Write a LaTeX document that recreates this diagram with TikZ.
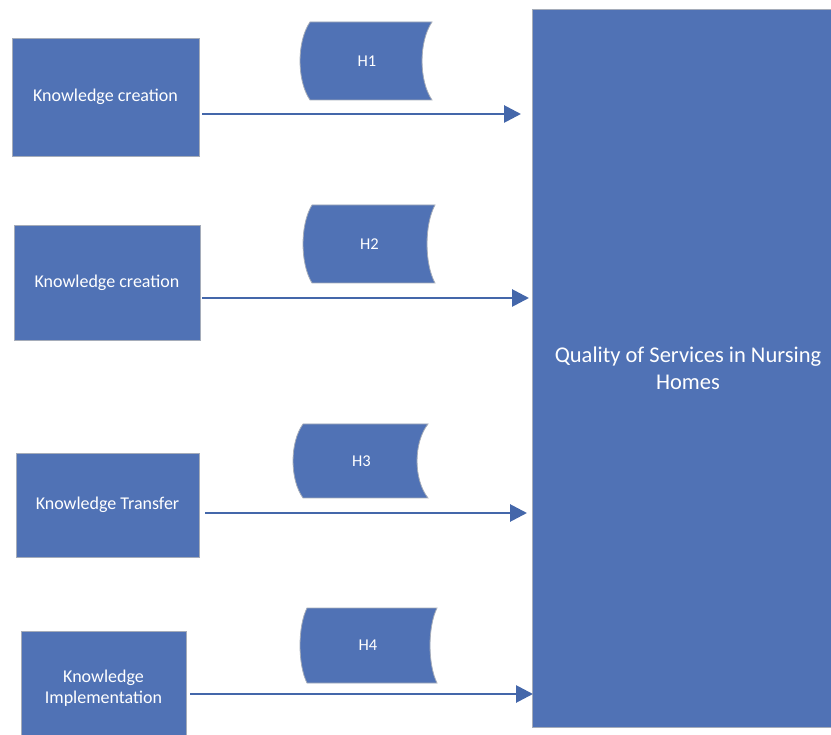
\documentclass[tikz,border=0pt]{standalone}
\usepackage{fontspec}
\setmainfont{Carlito}
\usetikzlibrary{arrows.meta}
\definecolor{boxblue}{RGB}{80,114,181}
\definecolor{arrblue}{RGB}{68,103,170}
\definecolor{edgegray}{RGB}{165,172,185}
\tikzset{
  kbox/.style={draw=edgegray, line width=0.9pt, fill=boxblue, text=white, align=center,
    font=\fontsize{18}{21}\selectfont, inner sep=0pt},
  bigbox/.style={draw=edgegray, line width=0.9pt, fill=boxblue, text=white, align=center,
    font=\fontsize{22.5}{27}\selectfont, inner sep=0pt},
  hshp/.style={draw=edgegray, line width=0.8pt, fill=boxblue},
  hlabel/.style={text=white, font=\fontsize{16.5}{19}\selectfont, inner sep=0pt},
  arr/.style={draw=arrblue, line width=2.8pt, -{Triangle[length=17pt,width=17pt]}}
}
\newcommand\hsym[8]{% name, xcl, xl, xr, xcr, ytop, ybot, label
  \path[hshp] (#3,#6) -- (#4,#6)
    .. controls ({#4-(#4-#5)*1.33},{#6+(#7-#6)*0.25}) and ({#4-(#4-#5)*1.33},{#6+(#7-#6)*0.75}) .. (#4,#7)
    -- (#3,#7)
    .. controls ({#3-(#3-#2)*1.33},{#6+(#7-#6)*0.75}) and ({#3-(#3-#2)*1.33},{#6+(#7-#6)*0.25}) .. cycle;
  \node[hlabel] (#1) at ({(#3+#4)/2-4},{(#6+#7)/2}) {#8};
}
\begin{document}
\begin{tikzpicture}[x=1pt,y=-1pt]
\useasboundingbox (0,0) rectangle (831,735);
\clip (0,0) rectangle (831,735);

% big box
\node[bigbox, minimum width=312pt, minimum height=718pt] (q) at (688,368)
  {Quality of Services in Nursing\\Homes};

% left boxes
\node[kbox, minimum width=187pt, minimum height=118pt] (k1) at (105.5,97) {Knowledge creation};
\node[kbox, minimum width=186pt, minimum height=115pt] (k2) at (107,282.5) {Knowledge creation};
\node[kbox, minimum width=183pt, minimum height=104pt] (k3) at (107.5,505) {Knowledge Transfer};
\node[kbox, minimum width=165pt, minimum height=114pt] (k4) at (103.5,688) {Knowledge\\Implementation};

% H symbols
\hsym{h1}{300}{310}{432}{422}{22}{100}{H1}
\hsym{h2}{303}{312}{435}{427}{205}{283}{H2}
\hsym{h3}{293}{303}{428}{417}{424}{498}{H3}
\hsym{h4}{300}{307}{437}{430}{608}{683}{H4}

% arrow end points
\coordinate (t1) at (521,114);
\coordinate (t2) at (529,298);
\coordinate (t3) at (527,513);
\coordinate (t4) at (533,694);

\draw[arr] ([xshift=3pt]k1.east |- t1) -- (t1);
\draw[arr] ([xshift=2pt]k2.east |- t2) -- (t2);
\draw[arr] ([xshift=6pt]k3.east |- t3) -- (t3);
\draw[arr] ([xshift=4pt]k4.east |- t4) -- (t4);
\end{tikzpicture}
\end{document}
